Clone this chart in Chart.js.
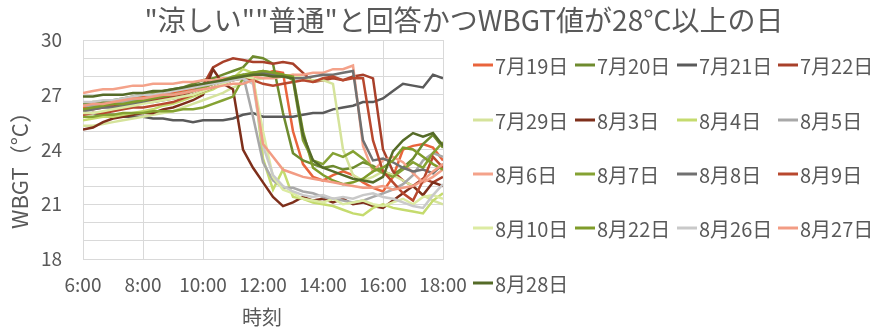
<!DOCTYPE html>
<html>
<head>
<meta charset="utf-8">
<script src="https://cdn.jsdelivr.net/npm/chart.js@4/dist/chart.umd.min.js"></script>
<style>
  html, body { margin: 0; padding: 0; background: #ffffff; }
  #wrap { width: 874px; height: 330px; }
</style>
</head>
<body>
<div id="wrap"><canvas id="c" width="874" height="330"></canvas></div>
<script>
// Measurement times (every 20 minutes, 6:00 - 18:00)
const timeLabels = [
  "6:00","6:20","6:40","7:00","7:20","7:40","8:00","8:20","8:40","9:00",
  "9:20","9:40","10:00","10:20","10:40","11:00","11:20","11:40","12:00","12:20",
  "12:40","13:00","13:20","13:40","14:00","14:20","14:40","15:00","15:20","15:40",
  "16:00","16:20","16:40","17:00","17:20","17:40","18:00"
];

// Day labels
const dayNames = ["7月19日","7月20日","7月21日","7月22日","7月29日","8月3日","8月4日","8月5日",
                  "8月6日","8月7日","8月8日","8月9日","8月10日","8月22日","8月26日","8月27日","8月28日"];

// WBGT (°C) per day
const wbgt_0719 = [26.3,26.4,26.5,26.6,26.6,26.8,26.9,27.0,27.0,27.1,27.2,27.3,27.4,27.6,27.8,27.9,28.0,28.2,28.1,28.3,28.2,25.0,23.2,22.5,22.3,22.6,22.8,22.6,22.2,21.9,21.7,22.5,24.0,24.2,24.3,24.1,23.4];
const wbgt_0720 = [26.5,26.6,26.6,26.7,26.8,26.9,27.0,27.1,27.2,27.3,27.4,27.6,27.8,27.9,28.1,28.3,28.5,29.1,29.0,28.7,26.0,23.8,23.4,23.2,23.0,23.1,22.9,23.0,23.3,23.1,22.8,22.6,23.0,23.5,24.3,24.8,24.1];
const wbgt_0721 = [26.0,26.0,25.9,25.9,25.8,25.8,25.8,25.7,25.7,25.6,25.6,25.5,25.6,25.6,25.6,25.7,25.9,26.0,25.8,25.8,25.8,25.8,25.9,26.0,26.0,26.2,26.3,26.4,26.6,26.6,26.8,27.2,27.6,27.5,27.4,28.1,27.9];
const wbgt_0722 = [26.2,26.2,26.3,26.4,26.4,26.5,26.6,26.7,26.8,26.9,27.0,27.2,27.5,28.5,28.8,29.0,28.9,28.8,28.8,28.7,28.8,28.7,28.2,27.7,27.8,27.9,27.8,28.0,28.1,27.9,24.0,22.8,22.3,22.0,22.4,22.2,22.5];
const wbgt_0729 = [25.3,25.3,25.4,25.5,25.6,25.7,25.8,25.9,26.0,26.1,26.3,26.5,26.7,26.9,27.1,27.4,27.6,27.8,27.9,28.0,28.0,28.1,27.9,27.8,27.8,27.6,24.0,22.6,22.3,22.5,22.8,22.6,22.3,22.0,21.5,21.2,21.0];
const wbgt_0803 = [25.1,25.2,25.5,25.7,25.8,25.9,26.0,26.0,26.2,26.3,26.5,26.7,27.0,28.4,27.6,27.3,24.0,23.0,22.2,21.4,20.9,21.1,21.4,21.2,21.3,21.1,21.3,21.0,21.1,20.9,20.8,21.2,21.6,22.0,21.5,22.2,22.0];
const wbgt_0804 = [25.6,25.7,25.8,25.8,25.9,26.0,26.1,26.2,26.4,26.5,26.7,26.9,27.1,27.3,27.6,27.9,28.4,28.2,23.5,21.8,22.9,21.4,21.3,21.1,21.0,20.9,20.7,20.5,20.4,20.8,21.0,20.8,20.7,20.6,20.5,21.2,21.6];
const wbgt_0805 = [26.4,26.4,26.5,26.5,26.6,26.7,26.8,26.9,27.0,27.0,27.1,27.2,27.4,27.6,27.8,27.9,28.1,25.8,23.3,22.3,21.9,21.9,21.7,21.6,21.4,21.3,21.2,21.1,21.2,21.4,21.6,21.8,22.1,22.6,23.4,23.8,23.6];
const wbgt_0806 = [27.1,27.2,27.3,27.3,27.4,27.5,27.5,27.6,27.6,27.6,27.7,27.7,27.8,27.8,27.9,27.9,28.0,28.0,27.9,27.9,28.0,28.1,28.1,28.2,28.2,28.4,28.4,28.6,24.2,22.8,23.4,23.6,23.3,22.7,22.2,22.5,22.9];
const wbgt_0807 = [25.8,25.8,25.9,25.9,26.0,26.0,26.0,26.1,26.1,26.1,26.2,26.2,26.3,26.5,26.7,26.9,27.9,28.2,28.3,28.2,28.1,27.8,24.5,23.4,23.2,23.8,23.6,23.9,23.5,23.0,22.7,22.5,22.9,23.3,23.0,23.8,24.4];
const wbgt_0808 = [26.1,26.2,26.3,26.3,26.4,26.5,26.6,26.6,26.7,26.8,26.9,27.0,27.2,27.4,27.6,27.8,28.0,28.1,28.2,28.1,28.0,27.9,27.9,28.0,28.1,28.1,28.2,28.3,24.5,23.4,23.5,23.3,23.0,22.8,22.9,22.7,23.2];
const wbgt_0809 = [25.9,26.0,26.0,26.1,26.2,26.3,26.3,26.4,26.5,26.6,26.8,27.0,27.2,27.4,27.6,27.8,27.9,27.8,27.6,27.5,27.6,27.7,27.8,27.7,27.9,28.0,27.8,27.9,27.9,24.5,22.8,22.2,21.6,21.2,22.3,23.6,23.0];
const wbgt_0810 = [26.0,26.0,26.1,26.2,26.3,26.4,26.5,26.6,26.7,26.8,26.9,27.0,27.2,27.4,27.6,27.8,28.0,27.9,25.0,22.5,21.8,21.6,21.3,21.2,21.1,21.3,21.0,21.1,21.2,21.0,20.9,21.1,21.3,21.0,21.4,21.5,21.3];
const wbgt_0822 = [26.2,26.3,26.4,26.5,26.5,26.6,26.7,26.8,26.9,27.0,27.1,27.2,27.4,27.6,27.8,28.0,28.1,28.2,28.3,28.2,28.1,28.0,25.0,23.0,22.6,22.3,22.1,22.2,22.4,22.8,23.0,23.4,24.1,24.0,23.6,23.2,22.9];
const wbgt_0826 = [26.6,26.6,26.7,26.7,26.8,26.9,27.0,27.0,27.1,27.2,27.3,27.4,27.5,27.6,27.7,27.8,27.9,27.6,24.2,22.6,22.0,21.7,21.5,21.4,21.5,21.3,21.4,21.3,21.5,21.6,21.4,21.3,21.1,20.9,20.8,21.5,22.1];
const wbgt_0827 = [26.4,26.5,26.5,26.6,26.7,26.8,26.8,26.9,27.0,27.0,27.1,27.2,27.3,27.4,27.5,27.6,27.6,27.8,24.3,23.6,22.9,22.7,22.5,22.4,22.3,22.2,22.1,22.0,21.9,21.9,22.0,21.8,21.9,22.0,22.3,22.8,23.2];
const wbgt_0828 = [26.9,26.9,27.0,27.0,27.0,27.1,27.1,27.2,27.2,27.3,27.4,27.5,27.6,27.7,27.8,27.9,28.0,28.1,28.1,28.0,28.0,27.9,24.8,23.4,23.0,22.8,22.6,22.4,22.3,22.2,22.5,23.9,24.5,24.9,24.7,24.9,24.2];

const seriesValues = [wbgt_0719, wbgt_0720, wbgt_0721, wbgt_0722, wbgt_0729, wbgt_0803, wbgt_0804, wbgt_0805,
                      wbgt_0806, wbgt_0807, wbgt_0808, wbgt_0809, wbgt_0810, wbgt_0822, wbgt_0826, wbgt_0827, wbgt_0828];

const lineColors = ["#E9643C","#6E8B2E","#5A5A5A","#A8402A","#D5E39B","#7E2F1B","#C5DB6E","#A8A8A8",
                    "#F4A28A","#85A233","#707070","#B8482E","#DCEBA2","#7F9C2A","#C9C9C9","#F29C84","#556B28"];

// Y tick labels shown every 3 °C; x ticks every 2 hours
const yTickLabels = [18, 21, 24, 27, 30];
const xTickLabels = ["6:00","8:00","10:00","12:00","14:00","16:00","18:00"];

const toMinutes = s => { const [h, m] = s.split(":").map(Number); return h * 60 + m; };
const minuteLabel = new Map(xTickLabels.map(s => [toMinutes(s), s]));

const TEXT = "#595959";
const GRID = "#D9D9D9";
const FONT = "'Noto Sans CJK JP', 'Noto Sans', sans-serif";

const datasets = dayNames.map((name, i) => ({
  label: name,
  data: seriesValues[i].map((v, k) => ({ x: toMinutes(timeLabels[k]), y: v })),
  borderColor: lineColors[i],
  backgroundColor: lineColors[i],
  borderWidth: 2.5,
  pointRadius: 0,
  tension: 0,
  fill: false,
  order: dayNames.length - i
}));

// Title, axis titles and the four-column legend
const decorations = {
  id: 'decorations',
  afterDraw(chart) {
    const ctx = chart.ctx;
    ctx.save();
    ctx.fillStyle = TEXT;

    ctx.font = "28px " + FONT;
    ctx.textAlign = "center";
    ctx.textBaseline = "middle";
    ctx.fillText('"涼しい""普通"と回答かつWBGT値が28°C以上の日', 464, 20);

    ctx.font = "20px " + FONT;
    ctx.fillText("時刻", 262, 317);

    ctx.save();
    ctx.font = "22px " + FONT;
    ctx.translate(20, 165);
    ctx.rotate(-Math.PI / 2);
    ctx.fillText("WBGT（°C）", 0, 0);
    ctx.restore();

    const colX = [473, 575, 677, 778];
    const rowY = [65, 120, 174, 228, 283];
    ctx.font = "20px " + FONT;
    ctx.textAlign = "left";
    chart.data.datasets.forEach((ds, i) => {
      const x = colX[i % 4], y = rowY[Math.floor(i / 4)];
      ctx.strokeStyle = ds.borderColor;
      ctx.lineWidth = 3;
      ctx.beginPath();
      ctx.moveTo(x, y);
      ctx.lineTo(x + 20, y);
      ctx.stroke();
      ctx.fillStyle = TEXT;
      ctx.fillText(ds.label, x + 22, y + 1);
    });
    ctx.restore();
  }
};

new Chart(document.getElementById("c"), {
  type: "line",
  data: { datasets },
  options: {
    responsive: false,
    devicePixelRatio: 1,
    animation: false,
    layout: { padding: { top: 40, right: 431, bottom: 0, left: 0 } },
    plugins: { legend: { display: false }, title: { display: false }, tooltip: { enabled: false } },
    scales: {
      x: {
        type: "linear",
        min: toMinutes(xTickLabels[0]),
        max: toMinutes(xTickLabels[xTickLabels.length - 1]),
        afterFit(scale) { scale.height = 71; },
        afterBuildTicks(scale) { scale.ticks = xTickLabels.map(s => ({ value: toMinutes(s) })); },
        ticks: {
          autoSkip: false, maxRotation: 0, padding: 14,
          color: TEXT, font: { size: 19, family: FONT },
          callback: v => minuteLabel.get(v) || ""
        },
        grid: { color: GRID, lineWidth: 1, drawTicks: false },
        border: { color: GRID }
      },
      y: {
        min: 18, max: 30,
        afterFit(scale) { scale.width = 83; },
        ticks: {
          stepSize: 1, autoSkip: false, padding: 21,
          color: TEXT, font: { size: 19, family: FONT },
          callback: v => yTickLabels.includes(v) ? String(v) : ""
        },
        grid: { color: GRID, lineWidth: 1, drawTicks: false },
        border: { color: GRID }
      }
    }
  },
  plugins: [decorations]
});
</script>
</body>
</html>
